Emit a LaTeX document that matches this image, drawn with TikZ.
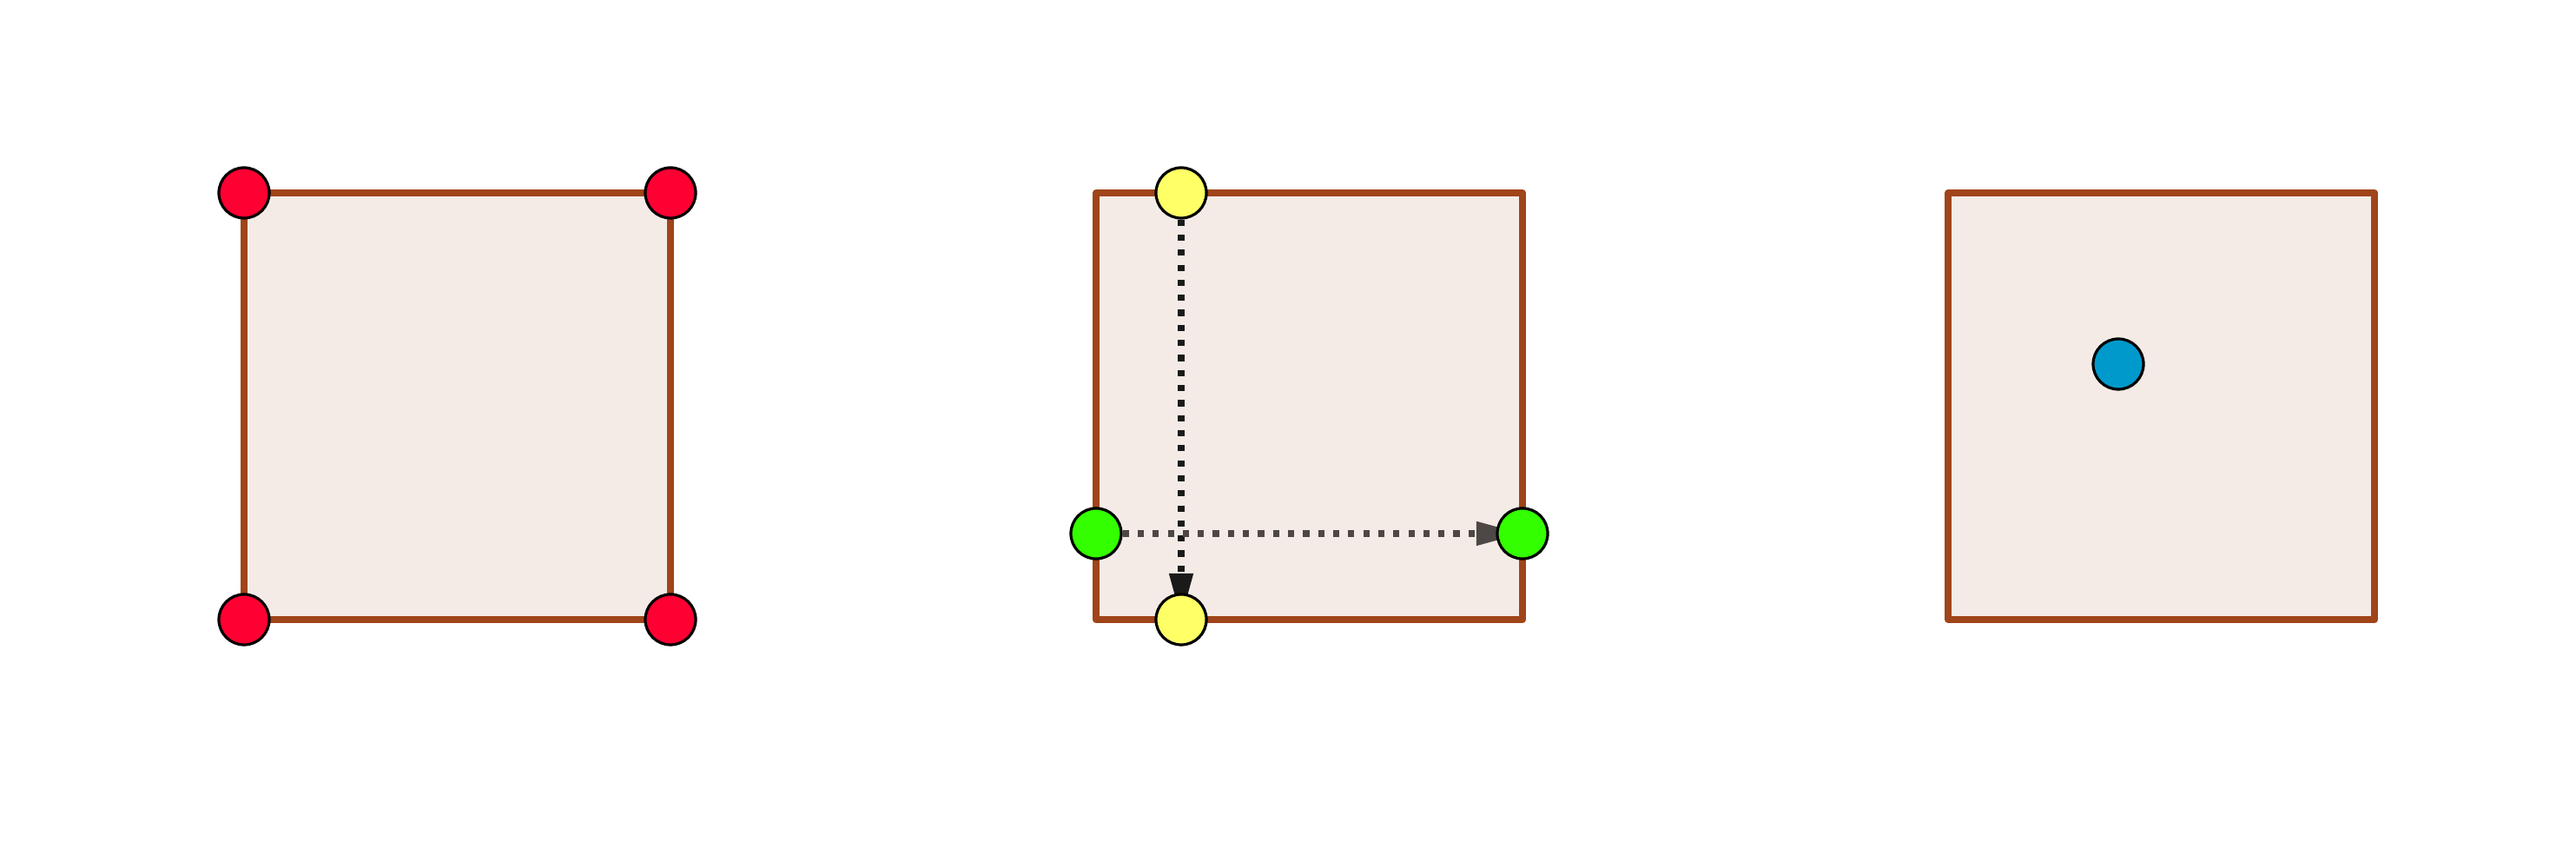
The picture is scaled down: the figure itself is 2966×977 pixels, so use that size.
\documentclass[tikz,border=0pt]{standalone}
\usetikzlibrary{arrows.meta}
\definecolor{sqEdge}{HTML}{A0441A}
\definecolor{sqFill}{HTML}{F4EBE6}
\definecolor{ptRed}{HTML}{FF0033}
\definecolor{ptYellow}{HTML}{FFFF66}
\definecolor{ptGreen}{HTML}{33FF00}
\definecolor{ptBlue}{HTML}{0099CC}
\definecolor{dotInk}{HTML}{1A1A1A}
\definecolor{dotGray}{HTML}{4D4845}
\pgfdeclarelayer{back}
\pgfdeclarelayer{mid}
\pgfsetlayers{back,mid,main}
\tikzset{
  sq face/.style={draw=sqEdge, fill=sqFill, line width=0.078cm, line join=round},
  sq pt/.style={circle, draw=black, line width=0.032cm, minimum size=0.58cm, inner sep=0pt},
  sq dots/.style={line width=0.075cm, dash pattern=on 0.072cm off 0.101cm,
    -{Triangle[length=0.53cm,width=0.26cm]}}
}
\begin{document}
\begin{tikzpicture}[x=0.01cm,y=-0.01cm]
  \useasboundingbox (0,0) rectangle (2966,977);
  \begin{pgfonlayer}{back}
    \foreach \x in {281,1262,2243}
      \draw[sq face] (\x,222) rectangle ++(491,491);
  \end{pgfonlayer}
  % corners
  \node[sq pt, fill=ptRed] (cornerTL) at (281,222) {};
  \node[sq pt, fill=ptRed] (cornerTR) at (772,222) {};
  \node[sq pt, fill=ptRed] (cornerBL) at (281,713) {};
  \node[sq pt, fill=ptRed] (cornerBR) at (772,713) {};
  % edge points
  \node[sq pt, fill=ptYellow] (edgeTop) at (1360,222) {};
  \node[sq pt, fill=ptYellow] (edgeBot) at (1360,713) {};
  \node[sq pt, fill=ptGreen] (edgeLeft) at (1262,614) {};
  \node[sq pt, fill=ptGreen] (edgeRight) at (1753,614) {};
  % inner point
  \node[sq pt, fill=ptBlue] (inner) at (2439,419) {};
  \begin{pgfonlayer}{mid}
    \draw[sq dots, draw=dotInk] (edgeTop) -- (edgeBot.center);
    \draw[sq dots, draw=dotGray] (edgeLeft) -- (edgeRight.center);
  \end{pgfonlayer}
\end{tikzpicture}
\end{document}
